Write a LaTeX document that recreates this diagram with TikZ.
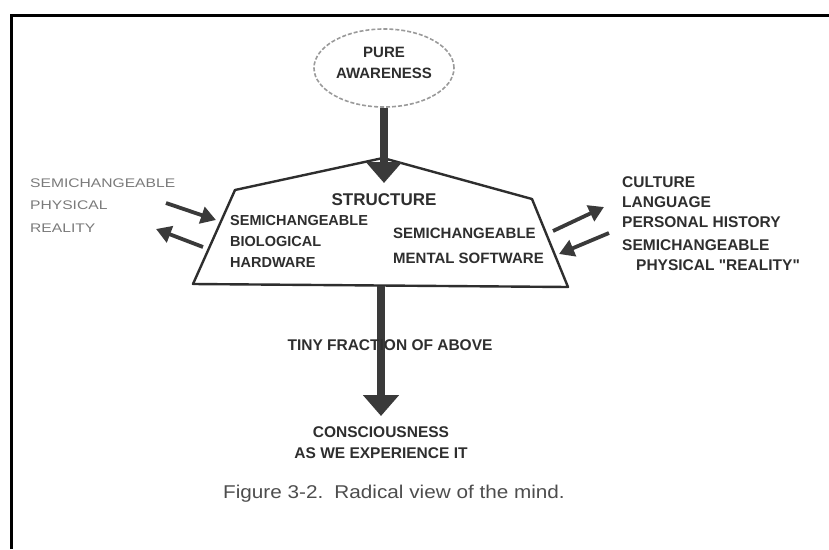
\documentclass[tikz,border=0pt]{standalone}
\usepackage{fontspec}
\setmainfont{Liberation Sans}
\newfontfamily\widesans[FakeStretch=1.25]{Liberation Sans}
\newfontfamily\capsans[FakeStretch=1.12]{Liberation Sans}
\usetikzlibrary{arrows.meta,shapes.geometric}
\definecolor{ink}{HTML}{2E2E2E}
\definecolor{shaft}{HTML}{3A3A3A}
\definecolor{paleink}{HTML}{7A7A7A}
\definecolor{dashgray}{HTML}{9A9A9A}
% straight double quote, kept out of the TeX ligature mapping
\newcommand{\straightquote}{{\addfontfeatures{Ligatures=TeXOff}"}}
\begin{document}
\begin{tikzpicture}[x=1pt,y=-1pt,
  boldlabel/.style={font=\bfseries\fontsize{15.5}{20}\selectfont, text=ink, inner sep=0pt, align=left},
  palelabel/.style={font=\widesans\fontsize{12.5}{22.5}\selectfont, text=paleink, inner sep=0pt, align=left},
  bigarrow/.style={draw=shaft, line width=8.5pt, -{Triangle[width=35pt,length=21pt]}},
  sidearrow/.style={draw=shaft, line width=3.8pt, -{Triangle[width=17pt,length=15pt]}},
  outline/.style={draw=ink, line width=2.4pt, line join=round, fill=white}
]
\useasboundingbox (0,0) rectangle (829,549);

% frame
\draw[line width=3pt] (11,549) -- (11,15) -- (829,15);

% pure awareness
\node[ellipse, draw=dashgray, line width=1.6pt, dash pattern=on 4pt off 2pt,
      minimum width=140pt, minimum height=78pt, inner sep=0pt] (aware) at (384,68) {};
\node[font=\bfseries\fontsize{15}{21}\selectfont, text=ink, align=center, inner sep=0pt]
      (awaretxt) at (384,62.5) {PURE\\AWARENESS};

% structure outline
\coordinate (apex) at (383,158);
\coordinate (tl) at (235,190);
\coordinate (tr) at (532,199);
\coordinate (br) at (568,287);
\coordinate (bl) at (193,284);
\draw[outline] (tl) -- (apex) -- (tr) -- (br) -- (bl) -- cycle;

% vertical arrows
\coordinate (topin) at (384,183);
\coordinate (botout) at (381,286);
\coordinate (botin) at (381,416);
\draw[bigarrow] (aware.south) -- (topin);
\draw[bigarrow] (botout) -- (botin);

% side arrows
\coordinate (la1s) at (166,203);
\coordinate (la1e) at (216,220);
\coordinate (la2s) at (203,247);
\coordinate (la2e) at (156,229);
\coordinate (ra1s) at (553,231);
\coordinate (ra1e) at (604,207);
\coordinate (ra2s) at (609,233);
\coordinate (ra2e) at (559,254);
\draw[sidearrow] (la1s) -- (la1e);
\draw[sidearrow] (la2s) -- (la2e);
\draw[sidearrow] (ra1s) -- (ra1e);
\draw[sidearrow] (ra2s) -- (ra2e);

% labels inside the structure
\node[font=\bfseries\fontsize{17}{20}\selectfont, text=ink, inner sep=0pt] (struct) at (384,200) {STRUCTURE};
\node[boldlabel, font=\bfseries\fontsize{14.5}{21}\selectfont, anchor=north west] (bio) at (230,214.8)
      {SEMICHANGEABLE\\BIOLOGICAL\\HARDWARE};
\node[boldlabel, font=\bfseries\fontsize{15}{25}\selectfont, anchor=north west] (mental) at (393,227.6)
      {SEMICHANGEABLE\\MENTAL SOFTWARE};

% outside labels
\node[palelabel, anchor=north west] (phys) at (30,178.5)
      {SEMICHANGEABLE\\PHYSICAL\\REALITY};
\node[boldlabel, anchor=north west] (cult) at (622,176.5)
      {CULTURE\\LANGUAGE\\PERSONAL HISTORY\\[3pt]SEMICHANGEABLE\\\hspace*{14pt}PHYSICAL \straightquote REALITY\straightquote};

% lower labels
\node[boldlabel] (tiny) at (390,345) {TINY FRACTION OF ABOVE};
\node[boldlabel, align=center, font=\bfseries\fontsize{15.5}{21}\selectfont] (consc) at (381,442.5)
      {CONSCIOUSNESS\\AS WE EXPERIENCE IT};

% caption
\node[font=\capsans\fontsize{18.5}{22}\selectfont, text=ink!85, inner sep=0pt] (caption) at (394,494)
      {Figure 3-2.\hspace{0.6em}Radical view of the mind.};
\end{tikzpicture}
\end{document}
